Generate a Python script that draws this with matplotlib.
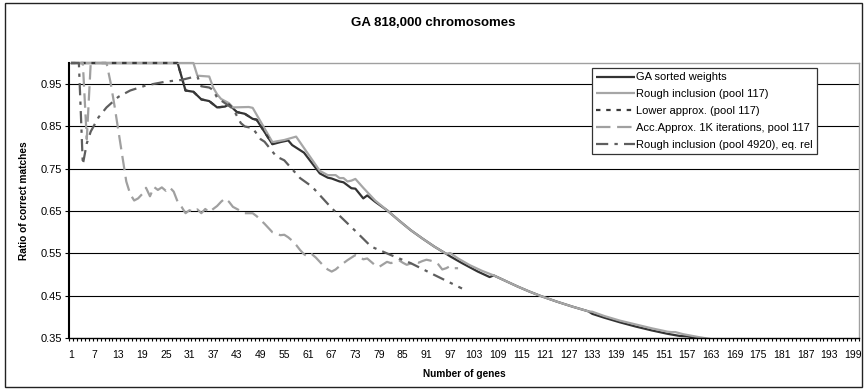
"""Ratio of correct matches vs number of genes (GA 818,000 chromosomes)."""

import matplotlib

matplotlib.use("Agg")
import matplotlib.pyplot as plt
from matplotlib.patches import Rectangle
from matplotlib.ticker import FixedLocator

plt.rcParams["font.family"] = ["Liberation Sans", "DejaVu Sans"]

TITLE = "GA 818,000 chromosomes"
X_LABEL = "Number of genes"
Y_LABEL = "Ratio of correct matches"

N_CATEGORIES = 200
X_TICK_LABELS = list(range(1, 200, 6))
Y_TICKS = [0.35, 0.45, 0.55, 0.65, 0.75, 0.85, 0.95]

LABELS = [
    "GA sorted weights",
    "Rough inclusion (pool 117)",
    "Lower approx. (pool 117)",
    "Acc.Approx. 1K iterations, pool 117",
    "Rough inclusion (pool 4920), eq. rel",
]

# GA sorted weights
ga_x = [1, 28, 30, 32, 34, 36, 38, 40, 41, 43, 45, 47, 48, 52, 54, 56, 57, 60,
        64, 66, 67, 69, 70, 72, 73, 75, 76, 78, 81, 84, 87, 90, 93, 96, 97, 100,
        104, 107, 108, 111, 114, 117, 120, 124, 128, 132, 133, 136, 140, 144,
        148, 152, 155, 157, 160, 164]
ga_y = [1.0, 1.0, 0.935, 0.932, 0.914, 0.910, 0.895, 0.897, 0.902, 0.884, 0.880,
        0.868, 0.866, 0.808, 0.813, 0.817, 0.806, 0.788, 0.739, 0.729, 0.727,
        0.720, 0.718, 0.704, 0.703, 0.680, 0.687, 0.672, 0.652, 0.628, 0.605,
        0.585, 0.566, 0.549, 0.543, 0.527, 0.507, 0.494, 0.498, 0.485, 0.472,
        0.460, 0.449, 0.436, 0.424, 0.413, 0.407, 0.398, 0.387, 0.377, 0.368,
        0.360, 0.355, 0.354, 0.349, 0.343]

# Rough inclusion (pool 117)
ri_x = [1, 32, 33, 36, 37, 38, 39, 41, 42, 46, 47, 52, 55, 58, 64, 66, 68, 69,
        70, 71, 72, 73, 75, 78, 81, 84, 87, 90, 93, 96, 97, 99, 102, 105, 108,
        111, 114, 117, 120, 124, 128, 132, 133, 136, 140, 144, 148, 152, 153,
        154, 156, 160, 164]
ri_y = [1.0, 1.0, 0.970, 0.968, 0.942, 0.926, 0.915, 0.905, 0.895, 0.896, 0.894,
        0.813, 0.818, 0.826, 0.745, 0.735, 0.735, 0.728, 0.728, 0.720, 0.722,
        0.726, 0.705, 0.675, 0.652, 0.628, 0.605, 0.585, 0.566, 0.549, 0.551,
        0.538, 0.522, 0.509, 0.498, 0.485, 0.472, 0.460, 0.449, 0.436, 0.424,
        0.413, 0.412, 0.402, 0.391, 0.382, 0.373, 0.365, 0.364, 0.364, 0.359,
        0.352, 0.346]

# Lower approx. (pool 117)
la_x = [1, 28, 30, 32, 34, 36, 38, 40, 41, 43, 45, 47, 48, 52]
la_y = [1.0, 1.0, 0.935, 0.932, 0.914, 0.910, 0.895, 0.897, 0.902, 0.884, 0.880,
        0.868, 0.866, 0.808]

# Acc.Approx. 1K iterations, pool 117
acc_x = [1, 4, 5, 6, 10, 11, 12, 13, 14, 15, 16, 17, 18, 19, 20, 21, 22, 23, 24,
         25, 26, 27, 28, 29, 30, 31, 32, 33, 34, 35, 36, 37, 38, 39, 40, 41, 42,
         43, 44, 45, 46, 47, 48, 49, 50, 51, 52, 53, 54, 55, 56, 57, 58, 59, 60,
         61, 62, 63, 64, 65, 66, 67, 68, 69, 70, 71, 72, 73, 74, 75, 76, 77, 78,
         79, 80, 81, 82, 83, 84, 85, 86, 87, 88, 89, 90, 91, 92, 93, 94, 95, 96,
         97, 98, 99]
acc_y = [1.0, 1.0, 0.82, 1.0, 1.0, 0.955, 0.90, 0.84, 0.78, 0.72, 0.69, 0.675,
         0.68, 0.69, 0.705, 0.685, 0.707, 0.70, 0.706, 0.698, 0.706, 0.696,
         0.672, 0.66, 0.645, 0.652, 0.648, 0.654, 0.645, 0.655, 0.647, 0.655,
         0.662, 0.672, 0.68, 0.672, 0.66, 0.655, 0.65, 0.645, 0.645, 0.645,
         0.638, 0.629, 0.62, 0.61, 0.60, 0.597, 0.593, 0.594, 0.588, 0.58,
         0.57, 0.558, 0.548, 0.542, 0.548, 0.54, 0.53, 0.52, 0.512, 0.507,
         0.512, 0.52, 0.527, 0.534, 0.54, 0.546, 0.542, 0.536, 0.538, 0.53,
         0.522, 0.518, 0.524, 0.53, 0.527, 0.53, 0.534, 0.528, 0.523, 0.526,
         0.53, 0.528, 0.532, 0.535, 0.533, 0.53, 0.524, 0.512, 0.515, 0.52,
         0.515, 0.515]

# Rough inclusion (pool 4920), eq. rel
eq_x = [1, 3, 4, 5, 6, 7, 8, 10, 13, 16, 20, 25, 29, 32, 33, 34, 36, 37, 38, 40,
        42, 44, 45, 47, 49, 50, 53, 55, 59, 62, 67, 73, 77, 82, 87, 93, 100]
eq_y = [1.0, 1.0, 0.76, 0.81, 0.838, 0.855, 0.872, 0.895, 0.92, 0.935, 0.947,
        0.956, 0.96, 0.967, 0.968, 0.945, 0.942, 0.936, 0.918, 0.905, 0.892,
        0.858, 0.85, 0.846, 0.82, 0.814, 0.779, 0.77, 0.728, 0.708, 0.657,
        0.603, 0.566, 0.546, 0.527, 0.499, 0.467]

SERIES = [
    (ga_x, ga_y, dict(color="#333333", linestyle="-")),
    (ri_x, ri_y, dict(color="#a6a6a6", linestyle="-")),
    (la_x, la_y, dict(color="#3a3a3a", dashes=(2.0, 2.6))),
    (acc_x, acc_y, dict(color="#a0a0a0", dashes=(6.5, 3.0))),
    (eq_x, eq_y, dict(color="#5e5e5e", dashes=(5.5, 2.8, 1.5, 2.8))),
]


def main() -> None:
    fig = plt.figure(figsize=(8.65, 3.9), dpi=100)
    ax = fig.add_axes([69 / 865, 52 / 390, 790 / 865, 275 / 390])

    # lines sitting on the 1.0 border are drawn in full, like the original chart
    clip = Rectangle((0, 0), 1, 1.03, transform=ax.transAxes)
    for (xs, ys, style), label in zip(SERIES, LABELS):
        (line,) = ax.plot(xs, ys, lw=1.6, label=label, solid_capstyle="butt",
                          dash_capstyle="butt", **style)
        line.set_clip_path(clip)

    ax.set_xlim(0.5, N_CATEGORIES + 0.5)
    ax.set_ylim(0.35, 1.0)

    ax.set_xticks(X_TICK_LABELS)
    ax.set_xticklabels([str(v) for v in X_TICK_LABELS], fontsize=7.5)
    ax.xaxis.set_minor_locator(FixedLocator([i + 0.5 for i in range(N_CATEGORIES + 1)]))
    ax.tick_params(axis="x", which="major", length=0, pad=9)
    ax.tick_params(axis="x", which="minor", length=2.5, width=0.8, direction="out")

    ax.set_yticks(Y_TICKS)
    ax.set_yticklabels([f"{v:.2f}" for v in Y_TICKS], fontsize=8)
    ax.tick_params(axis="y", length=3, width=0.8, pad=2)

    for v in Y_TICKS[1:]:
        ax.axhline(v, color="#000000", lw=0.8, zorder=0.5)

    ax.spines["left"].set_linewidth(1.5)
    ax.spines["bottom"].set_linewidth(1.0)
    ax.spines["top"].set_color("#a0a0a0")
    ax.spines["right"].set_color("#a0a0a0")
    ax.spines["top"].set_linewidth(1.0)
    ax.spines["right"].set_linewidth(1.0)
    ax.spines["top"].set_zorder(0.6)

    ax.set_xlabel(X_LABEL, fontsize=7.3, fontweight="bold", labelpad=6)
    ax.set_ylabel(Y_LABEL, fontsize=7.3, fontweight="bold", labelpad=8)
    fig.text(433 / 865, 1 - 23 / 390, TITLE, fontsize=9.5, fontweight="bold",
             ha="center", va="center")

    leg = ax.legend(loc="upper left", bbox_to_anchor=(0.662, 0.982),
                    borderaxespad=0, fontsize=8, frameon=True, fancybox=False,
                    framealpha=1, edgecolor="#333333", handlelength=3.5,
                    handletextpad=0.1, labelspacing=0.62, borderpad=0.4)
    leg.get_frame().set_linewidth(0.9)

    fig.patches.append(Rectangle((5 / 865, 3 / 390), 857 / 865, 384 / 390,
                                 transform=fig.transFigure, fill=False,
                                 edgecolor="#222222", lw=1.0))

    fig.savefig("out.png", dpi=100)
    plt.close(fig)


if __name__ == "__main__":
    main()
